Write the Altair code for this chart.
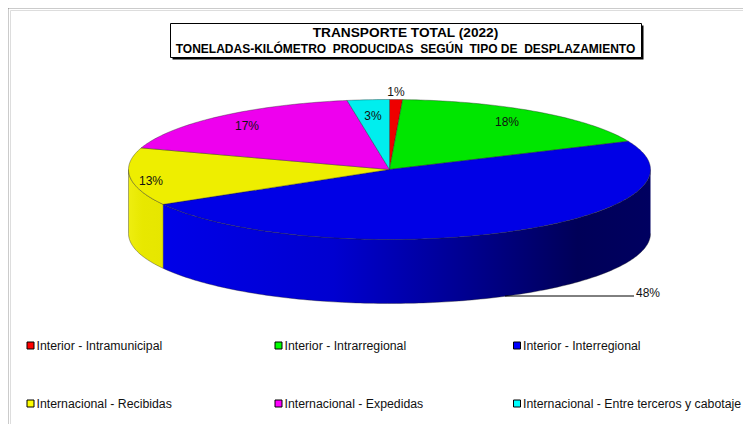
import math
import altair as alt
import pandas as pd

categories = ["Interior - Intramunicipal", "Interior - Intrarregional", "Interior - Interregional",
              "Internacional - Recibidas", "Internacional - Expedidas", "Internacional - Entre terceros y cabotaje"]
shares = [0.8, 17.6, 48.3, 13.3, 17.4, 2.6]
labels = ["1%", "18%", "48%", "13%", "17%", "3%"]
top_colors = ["#EE0000", "#00E600", "#0000E6", "#EEEE00", "#EE00EE", "#00EEEE"]
legend_colors = ["#FF0000", "#00FF00", "#0000FF", "#FFFF00", "#FF00FF", "#00FFFF"]

CX, CY, RX, RY, DEPTH = 389.5, 169.5, 261, 70, 64
XS = alt.Scale(domain=[10, 743], nice=False, zero=False)
YS = alt.Scale(domain=[424, 10], nice=False, zero=False)
X = alt.X("x:Q", scale=XS, axis=None)
Y = alt.Y("y:Q", scale=YS, axis=None)


def rim(t_deg, drop=0):
    t = math.radians(t_deg)
    return CX + RX * math.sin(t), CY - RY * math.cos(t) + drop


def arc(a, b, drop=0):
    n = max(2, int(abs(b - a)) + 2)
    return [rim(a + (b - a) * i / (n - 1), drop) for i in range(n)]


def poly(points, fill, stroke="#222222", width=0.5, opacity=0.75):
    df = pd.DataFrame({"x": [p[0] for p in points], "y": [p[1] for p in points], "i": range(len(points))})
    return alt.Chart(df).mark_line(fill=fill, stroke=stroke, strokeWidth=width, strokeOpacity=opacity,
                                   interpolate="linear").encode(x=X, y=Y, order=alt.Order("i:Q"))


edges = [0]
for s in shares:
    edges.append(edges[-1] + s * 360 / sum(shares))

layers = []

# frame lines
layers.append(alt.Chart(pd.DataFrame({"x": [7.5], "y": [7.5], "y2": [424]})).mark_rule(
    color="#333333", strokeWidth=1.5).encode(x=X, y=Y, y2="y2:Q"))
layers.append(alt.Chart(pd.DataFrame({"y": [7.5], "x": [7.5], "x2": [743]})).mark_rule(
    color="#333333", strokeWidth=1.5).encode(y=Y, x=X, x2="x2:Q"))

# title box
box = pd.DataFrame({"x": [170.5], "x2": [641.5], "y": [23.5], "y2": [57.5]})
shadow = pd.DataFrame({"x": [172.5], "x2": [643.5], "y": [25.5], "y2": [59.5]})
layers.append(alt.Chart(shadow).mark_rect(color="#000000").encode(x=X, x2="x2:Q", y=Y, y2="y2:Q"))
layers.append(alt.Chart(box).mark_rect(fill="#FFFFFF", stroke="#000000", strokeWidth=1).encode(
    x=X, x2="x2:Q", y=Y, y2="y2:Q"))

# walls (blue from the right extreme round the front, yellow to the left extreme)
blue_wall = arc(90, edges[3]) + arc(edges[3], 90, DEPTH)
yellow_wall = arc(edges[3], 270) + arc(270, edges[3], DEPTH)
blue_grad = alt.Gradient(gradient="linear", x1=0, x2=1, y1=0, y2=0, stops=[
    alt.GradientStop(offset=0, color="#0000E8"),
    alt.GradientStop(offset=0.35, color="#0000D0"),
    alt.GradientStop(offset=0.62, color="#000090"),
    alt.GradientStop(offset=0.85, color="#000058"),
    alt.GradientStop(offset=1, color="#000060"),
])
yellow_grad = alt.Gradient(gradient="linear", x1=0, x2=1, y1=0, y2=0, stops=[
    alt.GradientStop(offset=0, color="#EEEE10"),
    alt.GradientStop(offset=0.4, color="#E8E800"),
    alt.GradientStop(offset=1, color="#E6E600"),
])
layers.append(poly(yellow_wall, yellow_grad))
layers.append(poly(blue_wall, blue_grad))

# leader line for the 48% label
layers.append(alt.Chart(pd.DataFrame({"x": [505], "x2": [634], "y": [296]})).mark_rule(
    color="#000000", strokeWidth=1).encode(x=X, x2="x2:Q", y=Y))

# top faces
for i in range(len(shares)):
    layers.append(poly([(CX, CY)] + arc(edges[i], edges[i + 1]) + [(CX, CY)], top_colors[i]))

# value labels
label_pos_x = [396, 507, 648, 151, 247, 373]
label_pos_y = [91.5, 121.5, 292.5, 180.5, 126, 115.5]
layers.append(alt.Chart(pd.DataFrame({"x": label_pos_x, "y": label_pos_y, "t": labels})).mark_text(
    font="Liberation Sans", fontSize=12, color="#111111", align="center", baseline="middle").encode(
    x=X, y=Y, text="t:N"))

# legend
col_x = [30.5, 278.5, 517]
row_y = [345.5, 403.5]
leg = pd.DataFrame({
    "x": [col_x[i % 3] for i in range(6)],
    "y": [row_y[i // 3] for i in range(6)],
    "t": categories,
    "c": legend_colors,
})
layers.append(alt.Chart(leg).mark_point(shape="square", filled=True, size=49, stroke="#000000", strokeWidth=1,
                                        opacity=1).encode(
    x=X, y=Y, fill=alt.Fill("c:N", scale=None)))
layers.append(alt.Chart(leg).transform_calculate(tx="datum.x + 6").mark_text(
    font="Liberation Sans", fontSize=12.3, color="#111111", align="left", baseline="middle").encode(
    x=alt.X("tx:Q", scale=XS, axis=None), y=Y, text="t:N"))

# titles
title_x = [405.5]
layers.append(alt.Chart(pd.DataFrame({"x": title_x, "y": [32.5], "t": ["TRANSPORTE TOTAL (2022)"]})).mark_text(
    font="Liberation Sans", fontSize=13.7, fontWeight="bold", color="#000000", align="center", baseline="middle").encode(
    x=X, y=Y, text="t:N"))
layers.append(alt.Chart(pd.DataFrame({"x": title_x, "y": [48.5],
                                      "t": ["TONELADAS-KILÓMETRO\u00a0\u00a0PRODUCIDAS\u00a0\u00a0SEGÚN\u00a0\u00a0TIPO DE\u00a0\u00a0DESPLAZAMIENTO"]})).mark_text(
    font="Liberation Sans", fontSize=12, fontWeight="bold", color="#000000", align="center", baseline="middle").encode(
    x=X, y=Y, text="t:N"))

chart = alt.layer(*layers).properties(
    width=733, height=414,
    padding={"left": 2, "top": 2, "right": 0, "bottom": 0},
    autosize=alt.AutoSizeParams(type="none"),
).configure_view(stroke=None).configure(background="white")

chart.save("out.html", embed_options={"renderer": "svg", "actions": False})
